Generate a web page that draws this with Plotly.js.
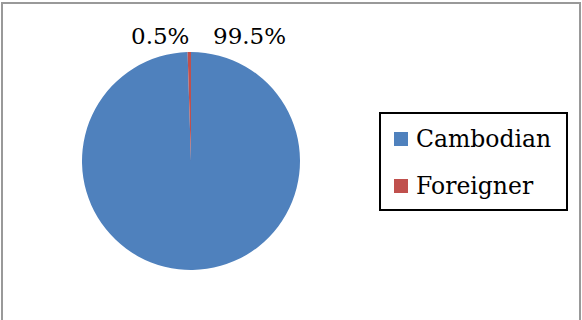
<!DOCTYPE html>
<html>
<head>
<meta charset="utf-8">
<script src="https://cdn.plot.ly/plotly-3.0.1.min.js"></script>
<style>html,body{margin:0;padding:0;background:#fff;}#chart{width:582px;height:320px;}</style>
</head>
<body>
<div id="chart"></div>
<script>
const categories = ["Cambodian", "Foreigner"];
const values = [99.5, 0.5];
const colors = ["#4F81BD", "#C0504D"];

const W = 582, H = 320;
const px = x => x / W;
const py = y => 1 - y / H;
const FONT = "DejaVu Serif, Century Schoolbook, serif";

const total = values.reduce((a, b) => a + b, 0);
const pctText = values.map(v => (v / total * 100).toFixed(1) + "%");

const trace = {
  type: "pie",
  labels: categories,
  values: values,
  marker: {colors: colors, line: {width: 0}},
  sort: false,
  direction: "clockwise",
  rotation: 0,
  textinfo: "none",
  hoverinfo: "label+percent",
  showlegend: false,
  domain: {x: [px(191 - 109), px(191 + 109)], y: [py(270), py(52)]}
};

const shapes = [
  {type: "rect", xref: "paper", yref: "paper", x0: px(2), x1: px(580), y0: py(330), y1: py(3),
   line: {color: "#999999", width: 2}, fillcolor: "rgba(0,0,0,0)"},
  {type: "rect", xref: "paper", yref: "paper", x0: px(380), x1: px(567), y0: py(210), y1: py(113),
   line: {color: "#000000", width: 2}, fillcolor: "rgba(0,0,0,0)"}
];
const annotations = [];
// percentage labels (Foreigner left, Cambodian right, as in the reference)
const labelX = [250, 160];
categories.forEach((c, i) => {
  annotations.push({xref: "paper", yref: "paper", x: px(labelX[i]), y: py(36), xanchor: "center", yanchor: "middle",
    text: pctText[i], showarrow: false, font: {family: FONT, size: 23, color: "#000"}});
});
// legend built from categories/colors
categories.forEach((c, i) => {
  const cy = 139 + i * 47;
  shapes.push({type: "rect", xref: "paper", yref: "paper", x0: px(394), x1: px(408), y0: py(cy + 7), y1: py(cy - 7),
    line: {width: 0}, fillcolor: colors[i]});
  annotations.push({xref: "paper", yref: "paper", x: px(414), y: py(cy), xanchor: "left", yanchor: "middle",
    text: c, showarrow: false, font: {family: FONT, size: 23.5, color: "#000"}});
});

const layout = {
  width: W, height: H,
  margin: {l: 0, r: 0, t: 0, b: 0},
  paper_bgcolor: "#ffffff",
  showlegend: false,
  shapes: shapes,
  annotations: annotations
};

Plotly.newPlot("chart", [trace], layout, {displayModeBar: false, staticPlot: true});
</script>
</body>
</html>
